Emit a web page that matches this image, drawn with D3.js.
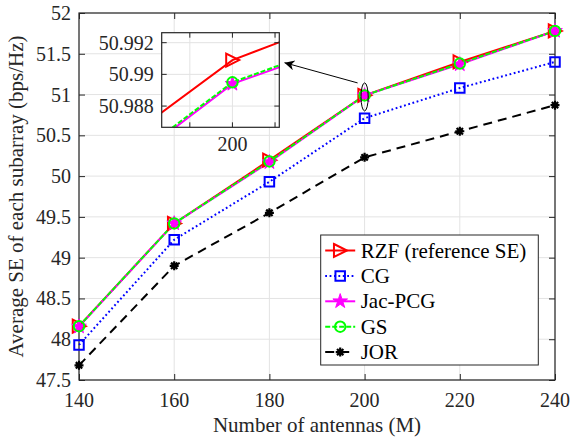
<!DOCTYPE html>
<html><head><meta charset="utf-8">
<script src="https://cdn.jsdelivr.net/npm/d3@7"></script>
</head><body style="margin:0;background:#fff">
<svg id="chart" width="572" height="438"></svg>
<script>
// ---- data ----
const antennas = [140, 160, 180, 200, 220, 240];
const rzfSE   = [48.16, 49.42, 50.195, 50.9909, 51.40, 51.78];
const cgSE    = [47.93, 49.22, 49.93, 50.71, 51.08, 51.40];
const jacSE   = [48.155, 49.42, 50.17, 50.9894, 51.37, 51.78];
const gsSE    = [48.16, 49.42, 50.18, 50.9895, 51.38, 51.78];
const jorSE   = [47.68, 48.90, 49.55, 50.23, 50.55, 50.87];
const seriesNames = ["RZF (reference SE)", "CG", "Jac-PCG", "GS", "JOR"];
const xTickValues = [140, 160, 180, 200, 220, 240];
const yTickValues = [47.5, 48, 48.5, 49, 49.5, 50, 50.5, 51, 51.5, 52];
const insetXTicks = [199.95, 200, 200.05];
const insetXTickLabels = ["", "200", ""];
const insetYTicks = [50.988, 50.99, 50.992];
const insetYTickLabels = ["50.988", "50.99", "50.992"];

const FONT = "\"Times New Roman\", \"Liberation Serif\", Tinos, FreeSerif";
const svg = d3.select("#chart");
const axisColor = "#262626", gridColor = "#e3e3e3";
const L = 79, R = 555, T = 13, B = 380;
const x = d3.scaleLinear().domain([140, 240]).range([L, R]);
const y = d3.scaleLinear().domain([47.5, 52]).range([B, T]);

const series = [
  {name: seriesNames[0], vals: rzfSE, color: "#ff0000", dash: null, marker: "triR"},
  {name: seriesNames[1], vals: cgSE, color: "#0000ff", dash: "1.8,2.6", marker: "square"},
  {name: seriesNames[2], vals: jacSE, color: "#ff00ff", dash: null, marker: "star"},
  {name: seriesNames[3], vals: gsSE, color: "#00ff00", dash: "5,2", marker: "circle"},
  {name: seriesNames[4], vals: jorSE, color: "#000000", dash: "9,6", marker: "aster"}
];

function markerPath(type, s) {
  if (type === "triR") { const h = s; return `M${-h*0.48},${-h*0.5}L${h*0.52},0L${-h*0.48},${h*0.5}Z`; }
  if (type === "square") return d3.symbol(d3.symbolSquare, s*s)();
  if (type === "star") return d3.symbol(d3.symbolStar, s*s*0.55)();
  if (type === "circle") return d3.symbol(d3.symbolCircle, Math.PI*(s/2)*(s/2))();
  if (type === "aster") {
    const r = s/2, p = [];
    for (let k = 0; k < 4; k++) { const a = k*Math.PI/4; p.push(`M${-r*Math.cos(a)},${-r*Math.sin(a)}L${r*Math.cos(a)},${r*Math.sin(a)}`); }
    return p.join("");
  }
}
const markerSize = {triR: 13, square: 9.5, star: 11, circle: 10.5, aster: 9};
function drawMarker(g, type, color, cx, cy) {
  const s = markerSize[type];
  const m = g.append("path").attr("d", markerPath(type, s)).attr("transform", `translate(${cx},${cy})`);
  if (type === "star") m.attr("fill", color).attr("stroke", color).attr("stroke-width", 1);
  else m.attr("fill", "none").attr("stroke", color).attr("stroke-width", type === "aster" ? 2.2 : 2);
}
function addText(g, txt, size, xx, yy, anchor, fill) {
  return g.append("text").attr("x", xx).attr("y", yy).attr("font-size", size)
    .style("font-family", FONT).attr("text-anchor", anchor).attr("fill", fill || axisColor).text(txt);
}

// grid
const grid = svg.append("g");
xTickValues.forEach(v => grid.append("line").attr("x1", x(v)).attr("x2", x(v)).attr("y1", T).attr("y2", B).attr("stroke", gridColor));
yTickValues.forEach(v => grid.append("line").attr("x1", L).attr("x2", R).attr("y1", y(v)).attr("y2", y(v)).attr("stroke", gridColor));

// axes (ticks via d3 axes, labels drawn from the same scales)
const tickLen = 6;
function cleanAxis(g) {
  g.attr("font-family", null).attr("font-size", null);
  g.select(".domain").remove();
  g.selectAll("line").attr("stroke", axisColor);
  g.selectAll("text").remove();
}
svg.append("g").attr("transform", `translate(0,${B})`)
  .call(d3.axisBottom(x).tickValues(xTickValues).tickSizeInner(-tickLen).tickSizeOuter(0)).call(cleanAxis);
svg.append("g").attr("transform", `translate(0,${T})`)
  .call(d3.axisTop(x).tickValues(xTickValues).tickSizeInner(-tickLen).tickSizeOuter(0)).call(cleanAxis);
svg.append("g").attr("transform", `translate(${L},0)`)
  .call(d3.axisLeft(y).tickValues(yTickValues).tickSizeInner(-tickLen).tickSizeOuter(0)).call(cleanAxis);
svg.append("g").attr("transform", `translate(${R},0)`)
  .call(d3.axisRight(y).tickValues(yTickValues).tickSizeInner(-tickLen).tickSizeOuter(0)).call(cleanAxis);
const labels = svg.append("g");
xTickValues.forEach(v => addText(labels, d3.format("d")(v), 20, x(v), B + 27, "middle"));
yTickValues.forEach(v => addText(labels, String(v), 20, L - 8, y(v) + 7, "end"));
svg.append("rect").attr("x", L).attr("y", T).attr("width", R-L).attr("height", B-T)
  .attr("fill", "none").attr("stroke", axisColor).attr("stroke-width", 1.2);

// axis labels
addText(svg, "Number of antennas (M)", 21, (L+R)/2, 432, "middle");
addText(svg, "Average SE of each subarray (bps/Hz)", 21, 0, 0, "middle")
  .attr("transform", `translate(23,${(T+B)/2}) rotate(-90)`);

// series
const plot = svg.append("g");
series.forEach(s => {
  const line = d3.line().x((d, i) => x(antennas[i])).y(d => y(d));
  plot.append("path").datum(s.vals).attr("d", line).attr("fill", "none").attr("stroke", s.color)
    .attr("stroke-width", 2).attr("stroke-dasharray", s.dash);
});
series.forEach(s => s.vals.forEach((v, i) => drawMarker(plot, s.marker, s.color, x(antennas[i]), y(v))));

// ellipse annotation + arrow
const defs = svg.append("defs");
svg.append("ellipse").attr("cx", x(200)).attr("cy", y(gsSE[3]) + 1.5).attr("rx", 3.6).attr("ry", 14)
  .attr("fill", "none").attr("stroke", "#000").attr("stroke-width", 1);
defs.append("marker").attr("id", "arr").attr("viewBox", "0 0 10 10").attr("refX", 10).attr("refY", 5)
  .attr("markerWidth", 14).attr("markerHeight", 10).attr("markerUnits", "userSpaceOnUse").attr("orient", "auto")
  .append("path").attr("d", "M0,0L10,5L0,10L3,5Z").attr("fill", "#000");
svg.append("line").attr("x1", x(200) - 7).attr("y1", y(gsSE[3]) - 12.5).attr("x2", 284.5).attr("y2", 62.7)
  .attr("stroke", "#000").attr("stroke-width", 1).attr("marker-end", "url(#arr)");

// legend
const lg = svg.append("g");
const LX = 320.7, LY = 235, LW = 217.6, LH = 130;
lg.append("rect").attr("x", LX).attr("y", LY).attr("width", LW).attr("height", LH)
  .attr("fill", "#fff").attr("stroke", axisColor).attr("stroke-width", 1);
series.forEach((s, i) => {
  const cy = LY + 15.5 + i * 25.4;
  lg.append("line").attr("x1", LX + 4.5).attr("x2", LX + 34.5).attr("y1", cy).attr("y2", cy)
    .attr("stroke", s.color).attr("stroke-width", 2).attr("stroke-dasharray", s.dash);
  drawMarker(lg, s.marker, s.color, LX + 19.5, cy);
  addText(lg, s.name, 21, LX + 40, cy + 7, "start", "#000");
});

// inset
const IL = 161.7, IR = 279.3, IT = 32.7, IB = 127.3;
const ix = d3.scaleLinear().domain([199.917, 200.055]).range([IL, IR]);
const iy = d3.scaleLinear().domain([50.98666, 50.99263]).range([IB, IT]);
const inset = svg.append("g");
inset.append("rect").attr("x", IL).attr("y", IT).attr("width", IR-IL).attr("height", IB-IT).attr("fill", "#fff");
insetXTicks.forEach(v => inset.append("line").attr("x1", ix(v)).attr("x2", ix(v)).attr("y1", IT).attr("y2", IB).attr("stroke", gridColor));
insetYTicks.forEach(v => inset.append("line").attr("x1", IL).attr("x2", IR).attr("y1", iy(v)).attr("y2", iy(v)).attr("stroke", gridColor));
defs.append("clipPath").attr("id", "iclip").append("rect")
  .attr("x", IL).attr("y", IT).attr("width", IR-IL).attr("height", IB-IT);
const ip = inset.append("g").attr("clip-path", "url(#iclip)");
series.forEach(s => {
  const line = d3.line().x((d, i) => ix(antennas[i])).y(d => iy(d));
  ip.append("path").datum(s.vals).attr("d", line).attr("fill", "none").attr("stroke", s.color)
    .attr("stroke-width", 2).attr("stroke-dasharray", s.dash);
});
series.forEach(s => s.vals.forEach((v, i) => drawMarker(ip, s.marker, s.color, ix(antennas[i]), iy(v))));
insetXTicks.forEach((v, i) => {
  inset.append("line").attr("x1", ix(v)).attr("x2", ix(v)).attr("y1", IB).attr("y2", IB - 5).attr("stroke", axisColor);
  inset.append("line").attr("x1", ix(v)).attr("x2", ix(v)).attr("y1", IT).attr("y2", IT + 5).attr("stroke", axisColor);
  if (insetXTickLabels[i]) addText(inset, insetXTickLabels[i], 20, ix(v), IB + 24, "middle");
});
insetYTicks.forEach((v, i) => {
  inset.append("line").attr("x1", IL).attr("x2", IL + 5).attr("y1", iy(v)).attr("y2", iy(v)).attr("stroke", axisColor);
  inset.append("line").attr("x1", IR).attr("x2", IR - 5).attr("y1", iy(v)).attr("y2", iy(v)).attr("stroke", axisColor);
  addText(inset, insetYTickLabels[i], 20, IL - 8, iy(v) + 7, "end");
});
inset.append("rect").attr("x", IL).attr("y", IT).attr("width", IR-IL).attr("height", IB-IT)
  .attr("fill", "none").attr("stroke", axisColor).attr("stroke-width", 1.2);
</script>
</body></html>
